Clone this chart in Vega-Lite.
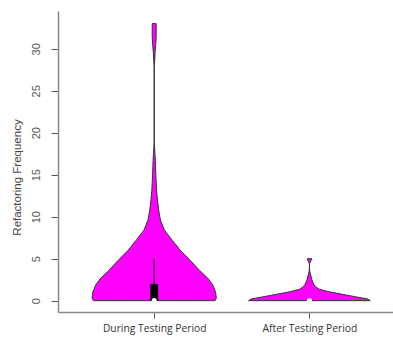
{
  "$schema": "https://vega.github.io/schema/vega-lite/v6.json",
  "autosize": "none",
  "padding": {"left": 58, "top": 11, "right": 0, "bottom": 25},
  "width": 335,
  "height": 301,
  "background": "white",
  "config": {"view": {"stroke": null}},
  "datasets": {
    "violins": [
      {"period": "During Testing Period", "pos": 1, "value": 0, "density": 0.98},
      {"period": "During Testing Period", "pos": 1, "value": 0.3, "density": 1.0},
      {"period": "During Testing Period", "pos": 1, "value": 1.0, "density": 0.99},
      {"period": "During Testing Period", "pos": 1, "value": 1.9, "density": 0.94},
      {"period": "During Testing Period", "pos": 1, "value": 2.7, "density": 0.86},
      {"period": "During Testing Period", "pos": 1, "value": 3.6, "density": 0.73},
      {"period": "During Testing Period", "pos": 1, "value": 4.8, "density": 0.58},
      {"period": "During Testing Period", "pos": 1, "value": 6.0, "density": 0.42},
      {"period": "During Testing Period", "pos": 1, "value": 7.2, "density": 0.29},
      {"period": "During Testing Period", "pos": 1, "value": 8.4, "density": 0.165},
      {"period": "During Testing Period", "pos": 1, "value": 9.6, "density": 0.1},
      {"period": "During Testing Period", "pos": 1, "value": 10.8, "density": 0.072},
      {"period": "During Testing Period", "pos": 1, "value": 12.0, "density": 0.052},
      {"period": "During Testing Period", "pos": 1, "value": 13.2, "density": 0.038},
      {"period": "During Testing Period", "pos": 1, "value": 15.0, "density": 0.026},
      {"period": "During Testing Period", "pos": 1, "value": 16.7, "density": 0.018},
      {"period": "During Testing Period", "pos": 1, "value": 17.5, "density": 0.012},
      {"period": "During Testing Period", "pos": 1, "value": 18.3, "density": 0.005},
      {"period": "During Testing Period", "pos": 1, "value": 19.0, "density": 0},
      {"period": "During Testing Period", "pos": 1, "value": 27.8, "density": 0},
      {"period": "During Testing Period", "pos": 1, "value": 28.5, "density": 0.008},
      {"period": "During Testing Period", "pos": 1, "value": 29.5, "density": 0.013},
      {"period": "During Testing Period", "pos": 1, "value": 30.6, "density": 0.026},
      {"period": "During Testing Period", "pos": 1, "value": 31.5, "density": 0.032},
      {"period": "During Testing Period", "pos": 1, "value": 33.0, "density": 0.032},
      {"period": "After Testing Period", "pos": 2, "value": 0, "density": 0.98},
      {"period": "After Testing Period", "pos": 2, "value": 0.2, "density": 0.94},
      {"period": "After Testing Period", "pos": 2, "value": 0.48, "density": 0.73},
      {"period": "After Testing Period", "pos": 2, "value": 0.76, "density": 0.53},
      {"period": "After Testing Period", "pos": 2, "value": 1.07, "density": 0.31},
      {"period": "After Testing Period", "pos": 2, "value": 1.36, "density": 0.16},
      {"period": "After Testing Period", "pos": 2, "value": 1.6, "density": 0.11},
      {"period": "After Testing Period", "pos": 2, "value": 1.87, "density": 0.075},
      {"period": "After Testing Period", "pos": 2, "value": 2.46, "density": 0.04},
      {"period": "After Testing Period", "pos": 2, "value": 3.06, "density": 0.02},
      {"period": "After Testing Period", "pos": 2, "value": 3.5, "density": 0.005},
      {"period": "After Testing Period", "pos": 2, "value": 3.9, "density": 0},
      {"period": "After Testing Period", "pos": 2, "value": 4.3, "density": 0},
      {"period": "After Testing Period", "pos": 2, "value": 4.45, "density": 0.004},
      {"period": "After Testing Period", "pos": 2, "value": 4.7, "density": 0.02},
      {"period": "After Testing Period", "pos": 2, "value": 5.0, "density": 0.035}
    ],
    "boxes": [
      {"period": "During Testing Period", "pos": 1, "q1": 0, "median": 0, "q3": 2, "upper": 5},
      {"period": "After Testing Period", "pos": 2, "q1": 0, "median": 0, "q3": 0, "upper": 0}
    ]
  },
  "encoding": {
    "x": {
      "type": "quantitative",
      "scale": {"domain": [0.4125, 2.506], "nice": false, "zero": false},
      "axis": {
        "title": null,
        "values": [1, 2],
        "labelExpr": "datum.value == 1 ? 'During Testing Period' : 'After Testing Period'",
        "grid": false,
        "domainColor": "#888888",
        "domainWidth": 1.5,
        "tickColor": "#555555",
        "tickSize": 6,
        "labelFont": "Open Sans",
        "labelFontSize": 10.3,
        "labelColor": "#333333",
        "labelPadding": 5
      }
    },
    "y": {
      "type": "quantitative",
      "scale": {"domain": [-1.35, 34.5], "nice": false, "zero": false},
      "axis": {
        "title": "Refactoring Frequency",
        "values": [0, 5, 10, 15, 20, 25, 30],
        "grid": false,
        "domainColor": "#888888",
        "domainWidth": 1.5,
        "tickColor": "#555555",
        "tickSize": 7,
        "labelAngle": 270,
        "labelAlign": "center",
        "labelBaseline": "alphabetic",
        "labelPadding": 12,
        "labelFont": "Liberation Sans",
        "labelFontSize": 11,
        "labelColor": "#555555",
        "titleFont": "Liberation Sans",
        "titleFontSize": 11.5,
        "titleFontWeight": "normal",
        "titleColor": "#444444",
        "titleAngle": 270,
        "titleAlign": "center",
        "titleBaseline": "alphabetic",
        "titleX": -38,
        "titleY": 166
      }
    }
  },
  "layer": [
    {
      "data": {"name": "violins"},
      "transform": [
        {"calculate": "datum.pos - 0.4 * datum.density", "as": "left"},
        {"calculate": "datum.pos + 0.4 * datum.density", "as": "right"}
      ],
      "mark": {"type": "area", "orient": "horizontal", "fill": "#ff00ff", "stroke": "#333333", "strokeWidth": 1, "opacity": 1},
      "encoding": {
        "x": {"field": "left", "type": "quantitative"},
        "x2": {"field": "right"},
        "y": {"field": "value", "type": "quantitative"},
        "detail": {"field": "period", "type": "nominal"}
      }
    },
    {
      "data": {"name": "boxes"},
      "mark": {"type": "bar", "size": 8, "color": "black"},
      "encoding": {
        "x": {"field": "pos", "type": "quantitative"},
        "y": {"field": "q1", "type": "quantitative"},
        "y2": {"field": "q3"}
      }
    },
    {
      "data": {"name": "boxes"},
      "mark": {"type": "rule", "color": "black", "strokeWidth": 1},
      "encoding": {
        "x": {"field": "pos", "type": "quantitative"},
        "y": {"field": "q3", "type": "quantitative"},
        "y2": {"field": "upper"}
      }
    },
    {
      "data": {"name": "boxes"},
      "mark": {"type": "point", "filled": true, "color": "white", "size": 26, "opacity": 1},
      "encoding": {
        "x": {"field": "pos", "type": "quantitative"},
        "y": {"field": "median", "type": "quantitative"}
      }
    },
    {
      "mark": {"type": "rule", "color": "#888888", "strokeWidth": 1.5},
      "encoding": {
        "y": {"datum": 34.5}
      }
    }
  ]
}
